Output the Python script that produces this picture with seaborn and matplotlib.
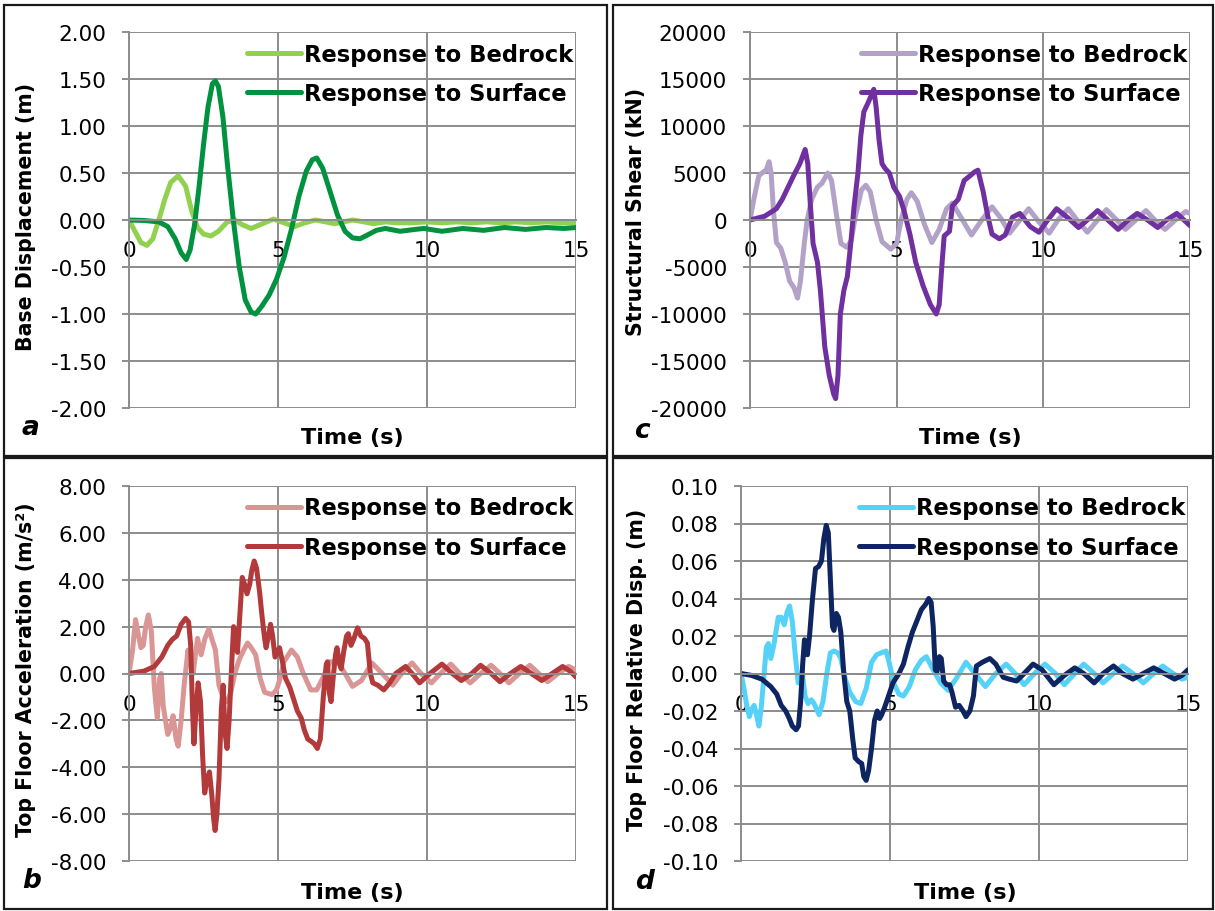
import numpy as np
import pandas as pd
import matplotlib
matplotlib.use('Agg')
import matplotlib.pyplot as plt
from matplotlib.patches import Rectangle
import seaborn as sns

# ---- panel a: base displacement (m)
a_bed_t = [0, 0.2, 0.4, 0.6, 0.8, 1.0, 1.2, 1.4, 1.65, 1.9, 2.1, 2.3, 2.5, 2.75, 3.0, 3.3, 3.55, 3.8, 4.1, 4.4,
           4.85, 5.2, 5.55, 5.9, 6.25, 6.6, 6.9, 7.2, 7.5, 7.9, 8.2, 8.6, 9.0, 9.5, 10.0, 10.5, 11.0, 11.5, 12.0,
           12.5, 13.0, 13.5, 14.0, 14.5, 15.0]
a_bed_y = [0, -0.12, -0.24, -0.27, -0.2, 0.0, 0.22, 0.4, 0.47, 0.36, 0.1, -0.08, -0.15, -0.17, -0.12, -0.02, 0.0,
           -0.05, -0.09, -0.05, 0.01, -0.03, -0.07, -0.03, 0.0, -0.02, -0.04, -0.02, 0.0, -0.02, -0.04, -0.02,
           -0.03, -0.03, -0.02, -0.03, -0.02, -0.03, -0.02, -0.03, -0.02, -0.03, -0.02, -0.03, -0.03]
a_sur_t = [0, 0.5, 1.0, 1.3, 1.55, 1.75, 1.92, 2.05, 2.2, 2.35, 2.5, 2.65, 2.8, 2.9, 3.0, 3.15, 3.3, 3.5, 3.7, 3.9,
           4.1, 4.25, 4.45, 4.7, 4.95, 5.2, 5.45, 5.7, 5.95, 6.15, 6.3, 6.5, 6.75, 7.0, 7.25, 7.5, 7.75, 8.0, 8.3,
           8.6, 9.1, 9.6, 9.9, 10.5, 11.2, 11.9, 12.6, 13.3, 14.0, 14.6, 15.0]
a_sur_y = [0, -0.005, -0.02, -0.07, -0.2, -0.35, -0.42, -0.32, -0.05, 0.35, 0.8, 1.2, 1.45, 1.48, 1.42, 1.1, 0.6,
           0.0, -0.5, -0.85, -0.98, -1.0, -0.92, -0.8, -0.63, -0.4, -0.1, 0.25, 0.52, 0.64, 0.66, 0.55, 0.3, 0.05,
           -0.12, -0.19, -0.2, -0.16, -0.11, -0.09, -0.12, -0.1, -0.09, -0.12, -0.09, -0.11, -0.08, -0.1, -0.08,
           -0.09, -0.08]

# ---- panel c: structural shear (kN)
c_bed_t = [0, 0.15, 0.3, 0.45, 0.55, 0.65, 0.72, 0.8, 0.9, 1.05, 1.2, 1.35, 1.5, 1.62, 1.72, 1.85, 1.95, 2.1, 2.3,
           2.45, 2.65, 2.78, 2.95, 3.1, 3.3, 3.45, 3.6, 3.8, 3.95, 4.1, 4.3, 4.5, 4.8, 5.0, 5.15, 5.35, 5.5, 5.7,
           5.95, 6.2, 6.45, 6.7, 6.9, 7.15, 7.55, 7.9, 8.25, 8.55, 8.85, 9.2, 9.5, 9.85, 10.2, 10.5, 10.85, 11.15,
           11.5, 11.85, 12.15, 12.5, 12.8, 13.15, 13.5, 13.8, 14.15, 14.5, 14.85, 15.0]
c_bed_y = [0, 2500, 4700, 5100, 5300, 6200, 5000, 1000, -2400, -3000, -4500, -6500, -7200, -8300, -6500, -2500, 0,
           2200, 3500, 3900, 5000, 4200, 500, -2500, -2900, -2200, 500, 3200, 3700, 3000, 0, -2300, -3100, -2500,
           0, 2200, 2900, 2000, -500, -2400, -1000, 1200, 1800, 500, -1600, 0, 1400, 200, -1400, 0, 1200, -200,
           -1400, 0, 1200, 0, -1300, 0, 1100, 0, -1000, 0, 1000, 0, -1000, 0, 900, 700]
c_sur_t = [0, 0.5, 0.9, 1.1, 1.3, 1.5, 1.7, 1.88, 1.97, 2.05, 2.15, 2.3, 2.4, 2.55, 2.7, 2.85, 2.92, 3.0, 3.08, 3.2,
           3.32, 3.45, 3.55, 3.68, 3.78, 3.88, 4.0, 4.1, 4.22, 4.3, 4.4, 4.5, 4.6, 4.75, 4.9, 5.1, 5.25, 5.45, 5.65,
           5.9, 6.15, 6.35, 6.45, 6.55, 6.62, 6.8, 6.9, 7.1, 7.3, 7.5, 7.65, 7.77, 7.95, 8.1, 8.25, 8.5, 8.7, 8.95,
           9.2, 9.55, 9.85, 10.15, 10.45, 10.85, 11.2, 11.5, 11.85, 12.2, 12.55, 12.9, 13.2, 13.55, 13.9, 14.2,
           14.55, 15.0]
c_sur_y = [0, 400, 1200, 2200, 3500, 4800, 6000, 7500, 6000, 2000, -2500, -4500, -7500, -13500, -16500, -18500,
           -19000, -16500, -10000, -7500, -6000, -2000, 1500, 5000, 9000, 11500, 12300, 13000, 13900, 12000, 8500,
           6000, 5500, 5000, 3500, 2500, 1000, -1500, -4500, -7000, -9000, -10000, -9000, -4500, -1700, -1200,
           1500, 2200, 4200, 4700, 5100, 5300, 3000, 500, -1500, -2000, -1600, 300, 700, -700, -1300, 0, 1200,
           200, -800, 0, 1000, 0, -1000, 0, 700, 0, -800, 0, 700, -600]

# ---- panel b: top floor acceleration (m/s2)
b_bed_t = [0, 0.12, 0.22, 0.32, 0.4, 0.48, 0.56, 0.65, 0.75, 0.85, 0.95, 1.03, 1.08, 1.15, 1.3, 1.4, 1.48, 1.58,
           1.65, 1.75, 1.85, 1.98, 2.08, 2.15, 2.3, 2.42, 2.55, 2.68, 2.8, 2.9, 3.02, 3.15, 3.3, 3.42, 3.55, 3.7,
           3.85, 3.98, 4.1, 4.25, 4.4, 4.55, 4.8, 4.95, 5.05, 5.2, 5.45, 5.65, 5.85, 6.1, 6.3, 6.5, 6.75, 7.0,
           7.25, 7.5, 7.8, 8.15, 8.5, 8.85, 9.15, 9.5, 9.8, 10.15, 10.45, 10.8, 11.1, 11.45, 11.8, 12.15, 12.45,
           12.75, 13.1, 13.45, 13.75, 14.05, 14.4, 14.75, 15.0]
b_bed_y = [0, 1.0, 2.3, 1.6, 1.1, 1.2, 2.0, 2.5, 1.8, -0.6, -1.9, -0.2, 0.0, -1.4, -2.6, -2.3, -1.8, -2.8, -3.1,
           -2.0, -0.5, 1.0, 0.3, 0.0, 1.5, 0.8, 1.5, 1.9, 1.4, 1.0, -0.5, -1.0, -1.2, -0.8, 0.0, 0.6, 1.0, 1.3,
           1.1, 0.8, -0.2, -0.8, -0.9, -0.7, -0.3, 0.5, 1.0, 0.7, 0.0, -0.7, -0.7, -0.2, 0.5, 0.5, 0.0, -0.55,
           -0.3, 0.45, 0.0, -0.5, 0.0, 0.45, 0.0, -0.4, 0.0, 0.4, 0.0, -0.4, 0.0, 0.35, 0.0, -0.4, 0.0, 0.35,
           0.0, -0.35, 0.0, 0.3, 0.15]
b_sur_t = [0, 0.5, 0.85, 1.1, 1.3, 1.45, 1.6, 1.75, 1.9, 2.0, 2.07, 2.13, 2.18, 2.25, 2.32, 2.4, 2.47, 2.54, 2.62,
           2.7, 2.78, 2.84, 2.89, 2.95, 3.02, 3.1, 3.16, 3.22, 3.29, 3.36, 3.45, 3.51, 3.58, 3.64, 3.72, 3.8, 3.88,
           3.96, 4.05, 4.12, 4.2, 4.28, 4.38, 4.46, 4.55, 4.6, 4.68, 4.75, 4.82, 4.9, 4.97, 5.05, 5.15, 5.25, 5.4,
           5.55, 5.65, 5.78, 5.88, 6.0, 6.12, 6.22, 6.32, 6.42, 6.52, 6.62, 6.66, 6.72, 6.78, 6.85, 6.93, 6.98,
           7.05, 7.12, 7.2, 7.3, 7.36, 7.45, 7.55, 7.67, 7.78, 7.9, 8.0, 8.1, 8.18, 8.35, 8.55, 8.75, 8.95, 9.28,
           9.5, 9.75, 10.1, 10.5, 10.85, 11.15, 11.5, 11.8, 12.15, 12.45, 12.8, 13.15, 13.5, 13.85, 14.2, 14.55,
           14.8, 15.0]
b_sur_y = [0, 0.1, 0.3, 0.7, 1.2, 1.45, 1.6, 2.1, 2.35, 2.2, 1.2, -1.5, -3.0, -1.5, -0.4, -1.2, -3.5, -5.1, -4.5,
           -4.2, -5.2, -6.2, -6.7, -6.0, -4.5, -1.5, -0.5, -2.5, -3.2, -2.0, 0.5, 2.0, 1.5, 0.9, 2.5, 4.1, 3.8, 3.4,
           3.8, 4.4, 4.8, 4.5, 3.5, 2.5, 1.5, 1.1, 1.6, 2.1, 1.6, 0.7, 0.9, 1.1, 0.5, -0.2, -0.6, -1.2, -1.6, -1.9,
           -2.4, -2.8, -2.9, -3.0, -3.2, -2.8, -1.0, 0.4, 0.5, -0.8, -1.2, -0.2, 0.8, 1.1, 0.5, 0.2, 0.9, 1.6, 1.7,
           1.2, 1.5, 1.95, 1.6, 1.5, 1.3, 0.0, -0.4, -0.5, -0.7, -0.4, 0.0, 0.3, 0.0, -0.4, 0.0, 0.4, 0.0, -0.3,
           0.0, 0.35, 0.0, -0.35, 0.0, 0.3, 0.0, -0.3, 0.0, 0.3, 0.1, -0.15]

# ---- panel d: top floor relative displacement (m)
d_bed_t = [0, 0.1, 0.18, 0.28, 0.36, 0.44, 0.52, 0.6, 0.68, 0.75, 0.85, 0.92, 1.0, 1.1, 1.25, 1.35, 1.45, 1.55,
           1.63, 1.72, 1.82, 1.92, 2.0, 2.06, 2.15, 2.25, 2.36, 2.45, 2.62, 2.75, 2.88, 3.0, 3.12, 3.25, 3.35, 3.5,
           3.65, 3.85, 4.02, 4.2, 4.38, 4.55, 4.7, 4.87, 5.0, 5.12, 5.3, 5.45, 5.65, 5.85, 6.05, 6.22, 6.45, 6.7,
           6.95, 7.25, 7.55, 7.85, 8.2, 8.55, 8.9, 9.2, 9.5, 9.85, 10.2, 10.55, 10.85, 11.2, 11.5, 11.85, 12.15,
           12.5, 12.8, 13.15, 13.5, 13.85, 14.15, 14.5, 14.8, 15.0]
d_bed_y = [0, -0.008, -0.016, -0.023, -0.019, -0.017, -0.022, -0.028, -0.018, -0.005, 0.014, 0.016, 0.008, 0.015,
           0.03, 0.03, 0.026, 0.033, 0.036, 0.028, 0.01, -0.005, -0.002, 0.0, -0.012, -0.016, -0.014, -0.016,
           -0.022, -0.015, 0.0, 0.011, 0.012, 0.011, 0.008, -0.003, -0.01, -0.015, -0.016, -0.008, 0.006, 0.01,
           0.011, 0.012, 0.004, -0.005, -0.011, -0.012, -0.007, 0.002, 0.007, 0.009, 0.002, -0.005, -0.009,
           -0.002, 0.006, 0.0, -0.007, 0.0, 0.005, 0.0, -0.006, 0.0, 0.005, 0.0, -0.006, 0.0, 0.005, 0.0, -0.005,
           0.0, 0.004, 0.0, -0.005, 0.0, 0.004, 0.0, -0.003, -0.002]
d_sur_t = [0, 0.35, 0.7, 1.0, 1.2, 1.35, 1.5, 1.62, 1.72, 1.85, 1.93, 2.0, 2.07, 2.13, 2.18, 2.23, 2.3, 2.4, 2.5,
           2.6, 2.7, 2.78, 2.86, 2.93, 3.0, 3.07, 3.12, 3.2, 3.27, 3.35, 3.45, 3.55, 3.65, 3.75, 3.83, 3.95, 4.05,
           4.12, 4.2, 4.28, 4.38, 4.48, 4.57, 4.65, 4.72, 4.82, 4.95, 5.1, 5.3, 5.45, 5.6, 5.75, 5.9, 6.05, 6.2,
           6.3, 6.38, 6.45, 6.52, 6.58, 6.66, 6.72, 6.8, 6.9, 7.0, 7.08, 7.2, 7.32, 7.45, 7.55, 7.68, 7.8, 7.9,
           8.1, 8.35, 8.55, 8.8, 9.0, 9.25, 9.5, 9.8, 10.1, 10.5, 10.85, 11.2, 11.5, 11.85, 12.15, 12.5, 12.8,
           13.15, 13.5, 13.85, 14.2, 14.55, 14.8, 15.0]
d_sur_y = [0, -0.001, -0.003, -0.007, -0.011, -0.017, -0.02, -0.024, -0.028, -0.03, -0.028, -0.015, 0.005, 0.018,
           0.015, 0.01, 0.02, 0.04, 0.056, 0.057, 0.06, 0.072, 0.079, 0.075, 0.05, 0.025, 0.023, 0.032, 0.03,
           0.022, 0.0, -0.015, -0.02, -0.035, -0.045, -0.047, -0.048, -0.055, -0.057, -0.052, -0.04, -0.025,
           -0.02, -0.024, -0.022, -0.018, -0.012, -0.005, 0.0, 0.005, 0.014, 0.022, 0.028, 0.034, 0.037, 0.04,
           0.038, 0.025, 0.002, 0.001, 0.009, 0.008, -0.004, -0.006, -0.006, -0.01, -0.018, -0.017, -0.02,
           -0.023, -0.02, -0.012, 0.004, 0.006, 0.008, 0.005, -0.002, -0.003, -0.004, 0.0, 0.005, 0.002, -0.006,
           -0.001, 0.003, 0.0, -0.005, 0.0, 0.004, 0.0, -0.003, 0.0, 0.003, 0.0, -0.003, -0.001, 0.002]

x_ticks = [0, 5, 10, 15]
series_names = ['Response to Bedrock', 'Response to Surface']

W, H = 1215, 912
sns.set_theme(style='white')
plt.rcParams['font.family'] = ['DejaVu Sans']
plt.rcParams['axes.unicode_minus'] = False
plt.rcParams['text.color'] = 'black'
plt.rcParams['axes.labelcolor'] = 'black'
plt.rcParams['xtick.color'] = 'black'
plt.rcParams['ytick.color'] = 'black'

fig = plt.figure(figsize=(W / 100, H / 100), dpi=100)
fig.patch.set_facecolor('white')

GRID = '#8c8c8c'

# panels: data, colours, axes box in pixels (left, top, right, bottom), texts
panels = [
    dict(bed=(a_bed_t, a_bed_y), sur=(a_sur_t, a_sur_y), colors=['#92D050', '#00923F'],
         box=(129, 33, 576, 409), yticks=np.linspace(-2, 2, 9), fmt='{:.2f}',
         ylabel='Base Displacement (m)', ylab_xy=(26, 217), time_xy=(352, 438), tag='a', tag_xy=(30, 428),
         frame=(4, 6, 607, 457)),
    dict(bed=(c_bed_t, c_bed_y), sur=(c_sur_t, c_sur_y), colors=['#B3A2C7', '#7030A0'],
         box=(750, 33, 1190, 409), yticks=np.linspace(-20000, 20000, 9), fmt='{:.0f}',
         ylabel='Structural Shear (kN)', ylab_xy=(636, 212), time_xy=(970, 438), tag='c', tag_xy=(642, 431),
         frame=(613, 6, 1213, 457)),
    dict(bed=(b_bed_t, b_bed_y), sur=(b_sur_t, b_sur_y), colors=['#DA9694', '#B33A3A'],
         box=(129, 487, 576, 862), yticks=np.linspace(-8, 8, 9), fmt='{:.2f}',
         ylabel='Top Floor Acceleration (m/s²)', ylab_xy=(26, 670), time_xy=(352, 893), tag='b',
         tag_xy=(32, 881), frame=(4, 459, 607, 910)),
    dict(bed=(d_bed_t, d_bed_y), sur=(d_sur_t, d_sur_y), colors=['#56D2F9', '#0E2562'],
         box=(741, 487, 1188, 862), yticks=np.linspace(-0.1, 0.1, 11), fmt='{:.2f}',
         ylabel='Top Floor Relative Disp. (m)', ylab_xy=(637, 670), time_xy=(965, 893), tag='d',
         tag_xy=(644, 882), frame=(613, 459, 1213, 910)),
]


def fx(px):
    return px / W


def fy(py):
    return 1 - py / H


for p in panels:
    l, t, r, b = p['box']
    ax = fig.add_axes([fx(l), fy(b), (r - l) / W, (b - t) / H])
    ax.set_facecolor('white')

    df = pd.concat([
        pd.DataFrame({'t': p['bed'][0], 'v': p['bed'][1], 'series': series_names[0]}),
        pd.DataFrame({'t': p['sur'][0], 'v': p['sur'][1], 'series': series_names[1]}),
    ])
    sns.lineplot(data=df, x='t', y='v', hue='series', palette=p['colors'], estimator=None, sort=False,
                 linewidth=3.6, ax=ax)
    for ln in ax.get_lines():
        ln.set_solid_joinstyle('round')
        ln.set_solid_capstyle('round')

    ax.set_xlim(0, 15)
    ax.set_ylim(p['yticks'][0], p['yticks'][-1])
    ax.set_xticks(x_ticks)
    ax.set_yticks(p['yticks'])
    ax.set_yticklabels([p['fmt'].format(v) if abs(v) > 1e-12 else p['fmt'].format(0) for v in p['yticks']])
    ax.set_xlabel('')
    ax.set_ylabel('')

    ax.grid(True, color=GRID, linewidth=1.4)
    ax.set_axisbelow(True)
    for s in ['top', 'right']:
        ax.spines[s].set_visible(False)
    ax.spines['left'].set_color(GRID)
    ax.spines['left'].set_linewidth(1.4)
    ax.spines['bottom'].set_position(('data', 0))
    ax.spines['bottom'].set_color(GRID)
    ax.spines['bottom'].set_linewidth(1.4)
    ax.tick_params(axis='x', length=0, pad=14.5, labelsize=15.5, labelcolor='black')
    ax.tick_params(axis='y', direction='out', length=5, width=1.4, color=GRID, pad=11.5,
                   labelsize=15.5, labelcolor='black', left=True)

    leg = ax.legend(loc='upper right', bbox_to_anchor=(0.995, 0.972), frameon=False, borderpad=0,
                    borderaxespad=0, handlelength=2.4, handletextpad=0.15, labelspacing=0.72,
                    prop={'weight': 'bold', 'size': 16.3})
    for h in leg.get_lines():
        h.set_linewidth(3.6)
    for txt in leg.get_texts():
        txt.set_color('black')

    fig.text(fx(p['ylab_xy'][0]), fy(p['ylab_xy'][1]), p['ylabel'], rotation=90, ha='center', va='center',
             fontsize=14.8, fontweight='bold', color='black')
    fig.text(fx(p['time_xy'][0]), fy(p['time_xy'][1]), 'Time (s)', ha='center', va='center',
             fontsize=16, fontweight='bold', color='black')
    fig.text(fx(p['tag_xy'][0]), fy(p['tag_xy'][1]), p['tag'], ha='center', va='center',
             fontsize=19, fontweight='bold', fontstyle='italic', color='black')

    x0, y0, x1, y1 = p['frame']
    fig.add_artist(Rectangle((fx(x0), fy(y1)), (x1 - x0) / W, (y1 - y0) / H, transform=fig.transFigure,
                             fill=False, edgecolor='#1a1a1a', linewidth=1.6))

fig.savefig('out.png', dpi=100, facecolor='white')
